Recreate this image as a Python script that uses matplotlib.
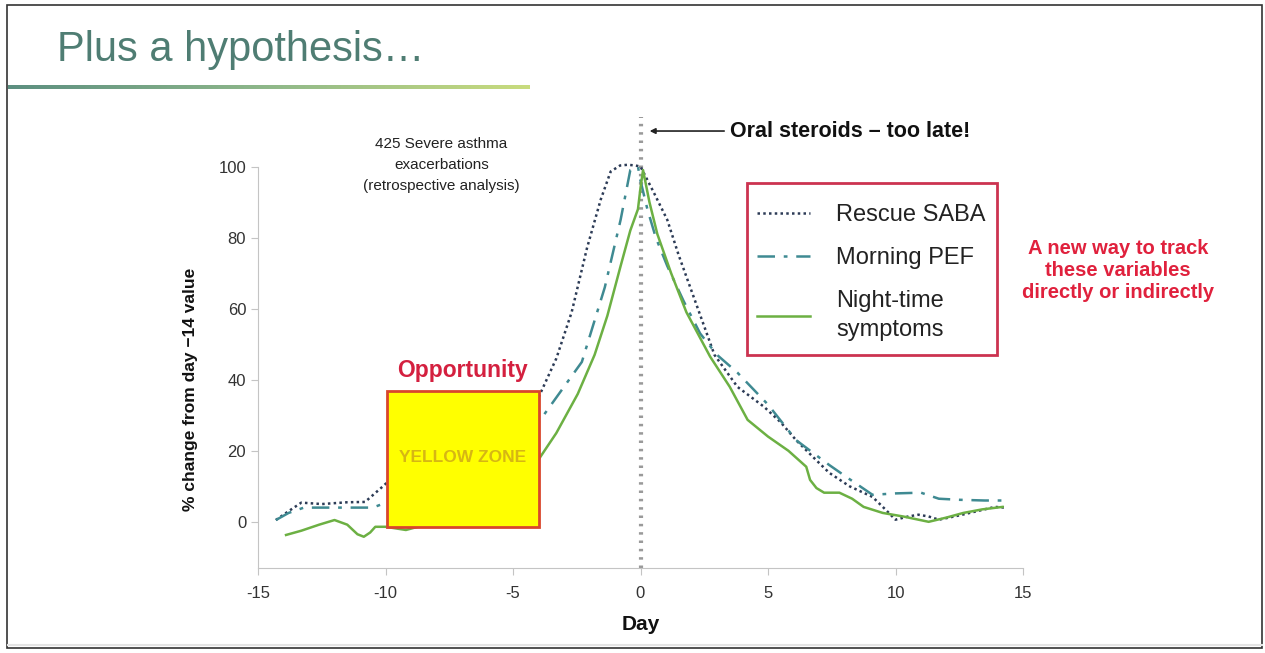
import numpy as np
import matplotlib
matplotlib.use("Agg")
import matplotlib.pyplot as plt
from matplotlib.patches import Rectangle
from matplotlib.lines import Line2D

plt.rcParams['font.family'] = ['Liberation Sans', 'DejaVu Sans']
plt.rcParams['axes.unicode_minus'] = False

# Rescue SABA (dotted)
days_saba = [-14.3, -13.8, -13.3, -12.5, -11.5, -10.8, -10.1, -9.5, -8, -6, -5, -4.0, -3.3, -2.7, -2.1,
             -1.56, -1.17, -0.8, -0.5, -0.2, 0, 0.5, 1.05, 1.5, 1.95, 2.4, 2.9, 3.8, 4.84, 5.5, 6.1, 6.8,
             7.4, 8.2, 9.1, 9.6, 10.0, 10.5, 10.9, 11.3, 11.7, 12.5, 13.2, 13.9, 14.3]
saba = [0.5, 3, 5.4, 5, 5.5, 5.6, 10, 14, 20, 26, 30, 35, 46, 59, 77,
        90.7, 98.6, 100.3, 100.5, 100.3, 100, 93, 85, 75, 66, 57, 47, 38, 32.4, 28, 23, 18,
        13.8, 10, 7, 3.5, 0.6, 1.5, 2, 1.5, 0.6, 1.8, 3, 4.2, 4]

# Morning PEF (dash-dot)
days_pef = [-14.3, -13.8, -13.2, -12, -11, -10.5, -9, -7, -5, -4.0, -3.2, -2.3, -1.4, -0.78, -0.4, -0.1,
            0, 0.27, 0.6, 1.05, 1.7, 2.34, 3.0, 3.8, 5, 6.1, 7.4, 8.2, 9.1, 10, 11, 11.7, 12.5, 13.5, 14.3]
pef = [0.5, 2.5, 4, 4, 4, 4, 8, 14, 22, 28, 36, 45, 66, 85, 99, 100,
       96, 88, 80, 72, 62, 53, 47, 42, 33, 23, 16, 12, 7.6, 8, 8.2, 6.5, 6.2, 6, 6]

# Night-time symptoms (solid)
days_night = [-13.9, -13.3, -12.6, -12.0, -11.5, -11.1, -10.85, -10.6, -10.4, -10.0, -9.2, -8, -6, -5,
              -4.0, -3.3, -2.46, -1.8, -1.3, -0.78, -0.4, -0.1, 0, 0.1, 0.35, 0.66, 1.2, 1.8, 2.73, 3.5,
              4.2, 5, 5.8, 6.5, 6.65, 6.9, 7.2, 7.8, 8.3, 8.75, 9.5, 10.3, 11.3, 12.0, 12.66, 13.4, 14.2]
night = [-3.7, -2.5, -0.8, 0.5, -0.8, -3.5, -4.2, -3.0, -1.4, -1.4, -2.3, 0, 5, 10,
         17.5, 25, 36, 47, 58, 72, 82, 88, 94, 99, 90, 81, 70, 59, 46.5, 38,
         28.7, 24, 20, 15.5, 11.8, 9.5, 8.2, 8.2, 6.5, 4.2, 2.5, 1.5, 0, 1.2, 2.5, 3.5, 4.2]

series_labels = ['Rescue SABA', 'Morning PEF', 'Night-time\nsymptoms']
x_ticks = [-15, -10, -5, 0, 5, 10, 15]
y_ticks = [0, 20, 40, 60, 80, 100]
zone_start, zone_end = -9.95, -4.0
zone_low, zone_high = -1.4, 36.9

W, H = 1265, 653
fig = plt.figure(figsize=(W / 100, H / 100), dpi=100)
fig.patch.set_facecolor('white')

# slide frame
fig.add_artist(Rectangle((7 / W, 1 - 648 / H), 1255 / W, 643 / H, transform=fig.transFigure,
                         fill=False, edgecolor='#333333', lw=1.2))
fig.add_artist(Line2D([8 / W, 1262 / W], [1 - 645 / H] * 2, transform=fig.transFigure,
                      color='#e4e4e4', lw=1.5))

# title + gradient rule
fig.text(57 / W, 1 - 50 / H, 'Plus a hypothesis\u2026', fontsize=30, color='#4f7d73',
         va='center', ha='left')
gax = fig.add_axes([8 / W, 1 - 89 / H, 522 / W, 4 / H])
grad = np.linspace(0, 1, 256).reshape(1, -1)
cmap = matplotlib.colors.LinearSegmentedColormap.from_list('g', ['#5c8f80', '#8fb88a', '#c9dc7e'])
gax.imshow(grad, aspect='auto', cmap=cmap)
gax.axis('off')

ax = fig.add_axes([258 / W, 1 - 568 / H, 765 / W, 405 / H])
ax.set_xlim(-15, 15)
ax.set_ylim(-13, 101)

ax.plot(days_saba, saba, color='#2c3b56', lw=1.8, linestyle=(0, (1, 1.3)), label=series_labels[0], zorder=3)
ax.plot(days_pef, pef, color='#3f8a92', lw=1.8, linestyle=(0, (7, 3.5, 1.5, 3.5)), label=series_labels[1], zorder=3)
ax.plot(days_night, night, color='#6cb043', lw=1.8, label=series_labels[2], zorder=3)

# yellow zone box
ax.add_patch(Rectangle((zone_start, zone_low), zone_end - zone_start, zone_high - zone_low,
                       facecolor='#ffff00', edgecolor='#d9462c', lw=2, zorder=5))
ax.text((zone_start + zone_end) / 2, 18.0, 'YELLOW ZONE', ha='center', va='center',
        fontsize=12.5, fontweight='bold', color='#d6b614', zorder=6)
ax.text((zone_start + zone_end) / 2, 42.5, 'Opportunity', ha='center', va='center',
        fontsize=16.5, fontweight='bold', color='#d4203f', zorder=6)

# day 0 marker
ax.axvline(0, ymin=0, ymax=(114 + 13) / 114, color='#9a9a9a', lw=3,
           linestyle=(0, (0.6, 1.4)), clip_on=False, zorder=2)
ax.annotate('Oral steroids \u2013 too late!', xy=(0.25, 110), xytext=(3.5, 110),
            ha='left', va='center', fontsize=15.5, fontweight='bold', color='#111111',
            annotation_clip=False,
            arrowprops=dict(arrowstyle='-|>', color='#222222', lw=1.2, mutation_scale=8))

ax.text(-7.8, 100.5, '425 Severe asthma\nexacerbations\n(retrospective analysis)', ha='center',
        va='center', fontsize=11, color='#222222', linespacing=1.65)

# legend (frame drawn separately)
leg = ax.legend(loc='upper left', bbox_to_anchor=(757 / W, 1 - 204 / H),
                bbox_transform=fig.transFigure, fontsize=17, frameon=False,
                handlelength=2.25, handletextpad=1.1, labelspacing=0.88, borderpad=0,
                borderaxespad=0)
for t in leg.get_texts():
    t.set_color('#222222')
    t.set_linespacing(1.45)
fig.add_artist(Rectangle((747 / W, 1 - 355 / H), 250 / W, 172 / H, transform=fig.transFigure,
                         fill=False, edgecolor='#cc3350', lw=2))

fig.text(1118 / W, 1 - 271 / H, 'A new way to track\nthese variables\ndirectly or indirectly',
         ha='center', va='center', fontsize=14.5, fontweight='bold', color='#e0213d', linespacing=1.2)

ax.spines['top'].set_visible(False)
ax.spines['right'].set_visible(False)
ax.spines['left'].set_bounds(-13, 100)
for s in ('left', 'bottom'):
    ax.spines[s].set_color('#c4c4c4')
ax.set_xticks(x_ticks)
ax.set_yticks(y_ticks)
ax.tick_params(colors='#c4c4c4', labelcolor='#333333', labelsize=12, length=5)
ax.tick_params(axis='x', pad=8)
ax.set_xlabel('Day', fontsize=15, fontweight='bold', color='#111111', labelpad=10)
ax.set_ylabel('% change from day \u221214 value', fontsize=12.5, fontweight='bold', color='#111111')
ax.yaxis.set_label_coords(-0.078, 0.44)

fig.savefig('out.png', dpi=100, facecolor='white')
